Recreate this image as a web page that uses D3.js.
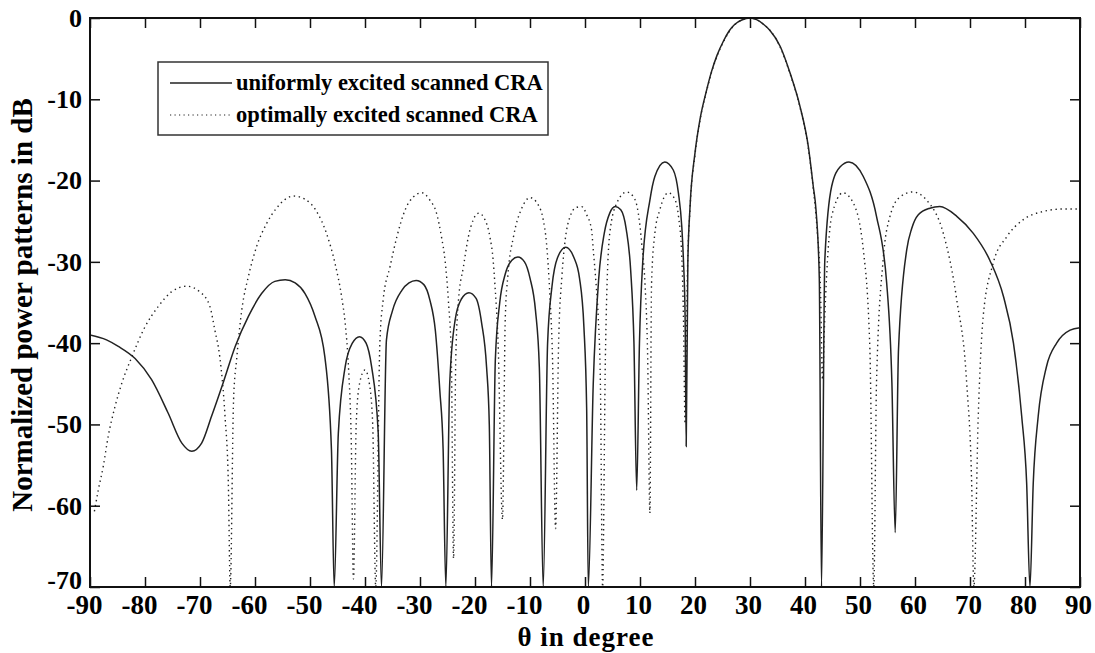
<html>
<head>
<meta charset="utf-8">
<style>
    body { margin: 0; background: #fff; }
    svg { display: block; }
    text { font-family: "Liberation Serif", "Times New Roman", serif; font-weight: bold; fill: #000; }
</style>
</head>
<body>
<svg id="viz"></svg>
<script src="https://cdnjs.cloudflare.com/ajax/libs/d3/7.8.5/d3.min.js"></script>
<script>
    var width = 1095, height = 653;
    var margin = { top: 18, right: 15, bottom: 66, left: 90 };

    // uniformly excited scanned CRA (theta in degree, power in dB)
    var uniformTheta = [-90, -87, -84.85, -81.8, -78.8, -75.8, -73.3, -71.5, -69.7, -67.9, -65.8, -63.6, -61.2, -58.8, -56.4, -54.5, -52.7, -50.9, -49.1, -47.3, -46.1, -45.6,
        -44.85, -43.6, -42.3, -41.0, -39.8, -38.8, -37.6, -37.0,
        -36.1, -35, -33.3, -32, -30.7, -29.3, -28.2, -27.2, -26.4, -25.8, -25.3,
        -24.6, -23.6, -22.5, -21.1, -19.8, -18.8, -17.9, -17.4, -17.0,
        -16.3, -15.5, -14.5, -13.3, -12.2, -11, -10, -9, -8.3, -7.6,
        -6.8, -6, -5, -3.5, -2, -1, -0.2, 0.3, 0.6,
        1.5, 2.5, 3.5, 4.5, 5.5, 6.5, 7.5, 8.3, 8.9, 9.4,
        9.9, 10.5, 11.8, 12.7, 14.5, 16.05, 17.0, 17.6, 17.9, 18.2, 18.4,
        18.7, 19.1, 20.0, 20.9, 22.1, 23.0, 24.0, 25.2, 26.2, 27.2, 28.5, 30, 31.2, 32.5, 33.6, 35.5, 37.3, 39.1, 40.6, 41.5, 42.0, 42.6, 43.0,
        43.6, 44.85, 46.4, 48.0, 50.6, 53.0, 54.85, 55.8, 56.4,
        57.0, 58.5, 59.4, 60.6, 62.7, 64.5, 67.6, 70.6, 73.6, 76.1, 77.9, 79.4, 80.3, 80.9,
        81.5, 82.4, 83.9, 85.75, 88.2, 90];
    var uniformDb = [-39.0, -39.6, -40.4, -41.9, -44.5, -48.6, -52.3, -53.3, -52.3, -49.0, -44.9, -40.4, -36.7, -33.9, -32.4, -32.2, -32.6, -33.9, -36.7, -41.7, -53.1, -70,
        -51.1, -42.9, -40.0, -39.2, -40.0, -42.9, -51, -70,
        -39.6, -36, -33.5, -32.6, -32.3, -32.8, -34.7, -38.5, -45.8, -53, -70,
        -45, -37.1, -34.6, -33.8, -34.5, -37.5, -42.9, -50, -70,
        -42, -35, -31.5, -29.8, -29.4, -30, -32, -36, -43, -70,
        -40, -33, -29.5, -28.2, -29.5, -32, -38, -48, -70,
        -45, -32, -26.5, -24, -23.2, -23.6, -26, -31, -40, -58.1,
        -40, -30, -22.4, -19.5, -17.7, -18.7, -21.6, -25.7, -29.8, -36.7, -52.7,
        -30, -23.2, -16.6, -12.5, -8.9, -6.6, -4.6, -2.8, -1.6, -0.8, -0.25, 0, -0.2, -0.8, -1.5, -3.5, -6.8, -10.9, -15.8, -20.7, -23.6, -32, -70,
        -29.8, -20.7, -18.3, -17.7, -19.5, -24.4, -32.6, -44.9, -63.3,
        -40.8, -28.5, -25.9, -24.2, -23.4, -23.2, -24.4, -26.5, -29.8, -34.3, -40.0, -49.0, -57.2, -70,
        -57.2, -49.0, -42.9, -40.0, -38.4, -38.1];

    // optimally excited scanned CRA
    var optimalTheta = [-89.2, -88.5, -87.6, -86.7, -85.45, -84.2, -82.4, -80.0, -77.6, -75.2, -72.4, -70.0, -68.2, -67.3, -66.4, -65.45, -64.85, -64.5,
        -63.9, -63.3, -62.4, -61.2, -59.7, -57.9, -56.1, -53.0, -50.9, -48.8, -47.0, -45.45, -44.25, -43.6, -43.0, -42.5, -42.1,
        -41.6, -41.0, -40.0, -39.2, -38.6, -38.05,
        -37.3, -36.7, -35.45, -34.2, -32.7, -31.2, -29.7, -28.2, -27.0, -26.1, -25.45, -24.85, -24.3, -23.9,
        -23.5, -23.0, -22.1, -21.2, -20.3, -19.3, -18.2, -17.3, -16.7, -16.4, -15.8, -15.0,
        -14.5, -14.0, -13.0, -11.5, -10.0, -8.5, -7.6, -7.0, -6.4, -5.9, -5.35,
        -4.8, -4.2, -3.6, -2.7, -1.6, -0.6, 0.3, 1.2, 1.5, 2.0, 2.4, 2.8, 3.2,
        3.7, 4.5, 5.76, 7.6, 8.8, 9.4, 10.0, 10.3, 10.9, 11.4, 11.8,
        12.1, 12.7, 13.6, 15.15, 16.4, 17.0, 17.6, 17.9, 18.2,
        18.6, 19.1, 20.0, 20.9, 22.1, 23.0, 24.0, 25.2, 26.2, 27.2, 28.5, 30, 31.2, 32.5, 33.6, 35.5, 37.3, 39.1, 40.6, 41.5, 42.2, 42.8, 43.2,
        43.6, 44.85, 46.9, 48.8, 50.6, 51.8, 52.5,
        53.0, 54.2, 55.45, 57.3, 59.6, 62.1, 65.15, 67.6, 69.4, 70.3, 70.7,
        71.5, 72.4, 74.2, 76.7, 79.7, 83.3, 86.95, 90];
    var optimalDb = [-60.7, -58.1, -55.2, -51.5, -47.8, -44.9, -41.7, -38.0, -35.5, -33.7, -33.0, -33.7, -35.5, -38.4, -41.7, -49.0, -57.2, -70,
        -47.0, -41.7, -35.9, -31.8, -28.1, -25.3, -23.4, -21.9, -22.3, -23.8, -26.5, -30.2, -34.3, -37.6, -43, -52, -69,
        -50, -45, -43.3, -45, -50, -70,
        -40, -34.7, -30.6, -26.9, -23.6, -22.0, -21.5, -22.4, -24.0, -26.9, -29.8, -34.7, -42, -66.5,
        -42, -34.7, -30.6, -26.9, -24.8, -24.0, -24.8, -26.9, -29.8, -32.6, -40, -61.7,
        -37, -31.5, -26.9, -23.4, -22.1, -23.0, -24.8, -27.7, -33.9, -42, -62.8,
        -40, -31.8, -27.3, -24.4, -23.3, -23.2, -24.2, -26.1, -28.5, -32.6, -36.7, -45, -70,
        -42, -26.5, -22.8, -21.4, -22.0, -23.0, -25.6, -27.7, -32.6, -42, -60.9,
        -32.6, -26.5, -23.6, -21.5, -22.4, -24.4, -29.4, -36.7, -49.9,
        -32, -23.4, -16.8, -12.6, -9.0, -6.7, -4.7, -2.9, -1.7, -0.85, -0.25, 0, -0.2, -0.8, -1.5, -3.6, -6.9, -11.0, -16.0, -21.0, -26, -33, -44.5,
        -36.7, -24.4, -21.5, -22.8, -28.5, -40.8, -70,
        -44.9, -29.8, -24.4, -22.0, -21.4, -22.4, -26.5, -34.7, -44.9, -57.2, -70,
        -49.0, -36.7, -30.2, -26.9, -24.8, -23.8, -23.5, -23.5];

    var xTicks = d3.range(-90, 91, 10);
    var yTicks = d3.range(-70, 1, 10);
    var legendLabels = ["uniformly excited scanned CRA", "optimally excited scanned CRA"];

    var svg = d3.select("#viz").attr("width", width).attr("height", height);

    var x = d3.scaleLinear().domain([-90, 90]).range([margin.left, width - margin.right]);
    var y = d3.scaleLinear().domain([-70, 0]).range([height - margin.bottom, margin.top]);

    svg.append("defs").append("clipPath").attr("id", "plot")
        .append("rect")
        .attr("x", x(-90)).attr("y", y(0))
        .attr("width", x(90) - x(-90)).attr("height", y(-70) - y(0));

    var line = d3.line()
        .x(function (d) { return x(d[0]); })
        .y(function (d) { return y(d[1]); })
        .curve(d3.curveMonotoneX);

    var uniform = uniformTheta.map(function (t, i) { return [t, uniformDb[i]]; });
    var optimal = optimalTheta.map(function (t, i) { return [t, optimalDb[i]]; });

    var curves = svg.append("g").attr("clip-path", "url(#plot)");

    curves.append("path")
        .datum(optimal)
        .attr("d", line)
        .attr("fill", "none")
        .attr("stroke", "#222")
        .attr("stroke-width", 1.4)
        .attr("stroke-dasharray", "1.4,3.6");

    curves.append("path")
        .datum(uniform)
        .attr("d", line)
        .attr("fill", "none")
        .attr("stroke", "#222")
        .attr("stroke-width", 1.5);

    // axes, ticks pointing inward on all four sides
    var fmt = function (d) { return String(d); };

    var gx = svg.append("g")
        .attr("transform", "translate(0," + y(-70) + ")")
        .call(d3.axisBottom(x).tickValues(xTicks).tickFormat(fmt).tickSizeInner(-10).tickSizeOuter(0).tickPadding(8));
    gx.selectAll("text")
        .style("font-size", "27px")
        .attr("font-family", null)
        .attr("dx", function (d) { return d < 0 ? -6 : -2; });

    var gy = svg.append("g")
        .attr("transform", "translate(" + x(-90) + ",0)")
        .call(d3.axisLeft(y).tickValues(yTicks).tickFormat(fmt).tickSizeInner(-10).tickSizeOuter(0).tickPadding(8));
    gy.selectAll("text")
        .style("font-size", "26px")
        .attr("font-family", null)
        // lowest label sits a little higher so it clears the -90 below it
        .attr("dy", function (d) { return d == -70 ? "0.05em" : "0.32em"; });

    svg.append("g")
        .attr("transform", "translate(0," + y(0) + ")")
        .call(d3.axisTop(x).tickValues(xTicks).tickFormat("").tickSizeInner(-10).tickSizeOuter(0));

    svg.append("g")
        .attr("transform", "translate(" + x(90) + ",0)")
        .call(d3.axisRight(y).tickValues(yTicks).tickFormat("").tickSizeInner(-10).tickSizeOuter(0));

    svg.selectAll(".domain").remove();
    svg.selectAll(".tick line").attr("stroke", "#111").attr("stroke-width", 1.5);

    svg.append("rect")
        .attr("x", x(-90)).attr("y", y(0))
        .attr("width", x(90) - x(-90)).attr("height", y(-70) - y(0))
        .attr("fill", "none").attr("stroke", "#111").attr("stroke-width", 2);

    // axis titles
    svg.append("text")
        .attr("x", 586)
        .attr("y", 646)
        .attr("text-anchor", "middle")
        .style("font-size", "27px")
        .style("letter-spacing", "1px")
        .text("θ in degree");

    svg.append("text")
        .attr("transform", "translate(32," + 305 + ") rotate(-90)")
        .attr("text-anchor", "middle")
        .style("font-size", "29px")
        .text("Normalized power patterns in dB");

    // legend
    var legend = svg.append("g");
    legend.append("rect")
        .attr("x", 158).attr("y", 62).attr("width", 390).attr("height", 73)
        .attr("fill", "#fff").attr("stroke", "#333").attr("stroke-width", 1.5);

    legendLabels.forEach(function (label, i) {
        var ly = 83 + i * 32;
        legend.append("line")
            .attr("x1", 170).attr("x2", 232).attr("y1", ly).attr("y2", ly)
            .attr("stroke", "#222")
            .attr("stroke-width", i == 0 ? 1.5 : 1.2)
            .attr("stroke-dasharray", i == 0 ? null : "1.2,3.3");
        legend.append("text")
            .attr("x", 236).attr("y", ly + 7)
            .style("font-size", "22.5px")
            .text(label);
    });
</script>
</body>
</html>
